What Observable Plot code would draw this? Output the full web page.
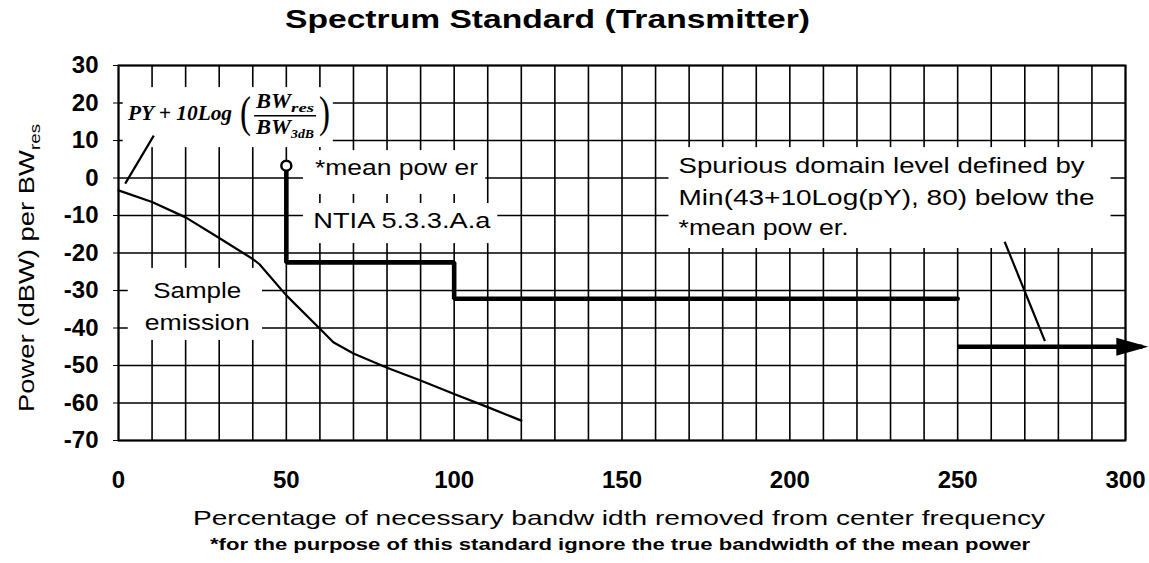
<!DOCTYPE html>
<html>
<head>
<meta charset="utf-8">
<script src="https://cdn.jsdelivr.net/npm/d3@7"></script>
<script src="https://cdn.jsdelivr.net/npm/@observablehq/plot@0.6"></script>
<style>
html,body{margin:0;padding:0;background:#fff;}
body{width:1149px;height:563px;overflow:hidden;font-family:"Liberation Sans",Arial,Helvetica,sans-serif;color:#000;}
#title{position:relative;height:40px;}
#title span{position:absolute;left:285px;top:4px;font-weight:bold;font-size:26px;line-height:30px;white-space:nowrap;transform-origin:left top;}
#chart{height:490px;}
#caption{position:relative;height:33px;}
#caption span{position:absolute;left:210px;top:5px;font-weight:bold;font-size:17px;line-height:20px;white-space:nowrap;transform-origin:left top;}
</style>
</head>
<body>
<div id="title"><span id="titleText">Spectrum Standard (Transmitter)</span></div>
<div id="chart"></div>
<div id="caption"><span id="captionText">*for the purpose of this standard ignore the true bandwidth of the mean power</span></div>
<script>
// ---- data ----
const xTicks = [0, 50, 100, 150, 200, 250, 300];
const yTicks = [30, 20, 10, 0, -10, -20, -30, -40, -50, -60, -70];
const gridX = [0,10,20,30,40,50,60,70,80,90,100,110,120,130,140,150,160,170,180,190,200,210,220,230,240,250,260,270,280,290,300];

const emissionX = [0, 10, 20, 30, 40, 42, 50, 60, 64, 70, 80, 90, 100, 110, 120];
const emissionY = [-3.3, -6.4, -10.5, -16, -21.6, -23, -31.3, -40.2, -43.8, -46.8, -50.6, -54, -57.6, -61.1, -64.7];

const maskX = [50, 50, 100, 100, 250];
const maskY = [3.3, -22.5, -22.5, -32.2, -32.2];

const meanPowerX = [50];
const meanPowerY = [3.3];

const spuriousX = [250, 305];
const spuriousY = [-45, -45];

const formulaLeaderX = [2, 10.5];
const formulaLeaderY = [-1.5, 11.3];
const spuriousLeaderX = [264, 276];
const spuriousLeaderY = [-17, -43.5];

// white label boxes (data units)
const boxX1 = [1.4, 55.1, 55.1, 2.9, 164];
const boxX2 = [64, 109.4, 113, 42.9, 295.7];
const boxY1 = [8.1, -4.4, -17.5, -43.3, -18.8];
const boxY2 = [24.1, 7.3, -6.8, -24.1, 8.1];

// annotation texts
const annText = ["*mean pow er", "NTIA 5.3.3.A.a", "Sample", "emission",
  "Spurious domain level defined by", "Min(43+10Log(pY), 80) below the", "*mean pow er."];
const annX = [58.7, 58.2, 23.6, 23.6, 167, 167, 167];
const annY = [0.67, -13.5, -32.2, -40.7, 1.1, -7.3, -15.3];

// ---- tables ----
const emission = emissionX.map((x, i) => ({x, y: emissionY[i]}));
const mask = maskX.map((x, i) => ({x, y: maskY[i]}));
const meanPower = meanPowerX.map((x, i) => ({x, y: meanPowerY[i]}));
const spurShaft = [{x1: spuriousX[0], y1: spuriousY[0], x2: spuriousX[1], y2: spuriousY[1]}];
const spurHead = [{x: spuriousX[1], y: spuriousY[1]}];
const leaders = [
  {x1: formulaLeaderX[0], y1: formulaLeaderY[0], x2: formulaLeaderX[1], y2: formulaLeaderY[1]},
  {x1: spuriousLeaderX[0], y1: spuriousLeaderY[0], x2: spuriousLeaderX[1], y2: spuriousLeaderY[1]}
];
const boxes = boxX1.map((x1, i) => ({x1, x2: boxX2[i], y1: boxY1[i], y2: boxY2[i]}));

const arrowHead = {draw(ctx) { ctx.moveTo(6, 0); ctx.lineTo(-26, -9); ctx.lineTo(-26, 9); ctx.closePath(); }};

const sans = "'Liberation Sans', Arial, Helvetica, sans-serif";
const serif = "'Liberation Serif', 'Times New Roman', serif";

const fig = Plot.plot({
  width: 1149,
  height: 490,
  marginLeft: 118,
  marginRight: 24,
  marginTop: 25,
  marginBottom: 90,
  style: {fontFamily: sans, fontSize: "24px", fontWeight: "bold", color: "#000", background: "#fff", overflow: "visible"},
  x: {domain: [0, 300], ticks: xTicks, tickFormat: d => String(d), tickSize: 0, tickPadding: 30, label: null},
  y: {domain: [-70, 30], ticks: yTicks, tickFormat: d => String(d), tickSize: 5, tickPadding: 15, label: null},
  marks: [
    Plot.ruleX(gridX, {y1: -70, y2: 30, stroke: "#000", strokeWidth: 1.6}),
    Plot.ruleY(yTicks, {x1: 0, x2: 300, stroke: "#000", strokeWidth: 1.6}),
    Plot.rect(boxes, {x1: "x1", x2: "x2", y1: "y1", y2: "y2", fill: "#fff"}),
    Plot.frame({stroke: "#000", strokeWidth: 2}),
    Plot.line(emission, {x: "x", y: "y", stroke: "#000", strokeWidth: 2.2}),
    Plot.line(mask, {x: "x", y: "y", stroke: "#000", strokeWidth: 4.6, strokeLinejoin: "miter", curve: "linear"}),
    Plot.link(leaders, {x1: "x1", y1: "y1", x2: "x2", y2: "y2", stroke: "#000", strokeWidth: 2.2}),
    Plot.dot(meanPower, {x: "x", y: "y", r: 5, stroke: "#000", strokeWidth: 2.5, fill: "#fff"}),
    Plot.link(spurShaft, {x1: "x1", y1: "y1", x2: "x2", y2: "y2", stroke: "#000", strokeWidth: 4.6}),
    Plot.dot(spurHead, {x: "x", y: "y", symbol: arrowHead, fill: "#000", stroke: "none"})
  ]
});
document.getElementById("chart").appendChild(fig);

// ---- annotations placed through the plot's scales ----
const sxI = fig.scale("x"), syI = fig.scale("y");
const X = d3.scaleLinear(sxI.domain, sxI.range);
const Y = d3.scaleLinear(syI.domain, syI.range);
const svg = d3.select(fig);
const g = svg.append("g").attr("class", "annotations");

function addText(str, px, py, o) {
  const t = g.append("text").attr("x", px).attr("y", py).text(str)
    .attr("font-size", o.size).attr("font-weight", o.weight || "normal")
    .attr("font-style", o.style || "normal").attr("font-family", o.family || sans)
    .attr("text-anchor", o.anchor || "start").attr("fill", "#000");
  if (o.len) t.attr("textLength", o.len).attr("lengthAdjust", "spacingAndGlyphs");
  if (o.rotate) t.attr("transform", `rotate(${o.rotate},${px},${py})`);
  return t;
}

const annLen = [163, 177, 88, 105, 406, 416, 170];
annText.forEach((s, i) => {
  addText(s, X(annX[i]), Y(annY[i]), {size: 22, len: annLen[i], anchor: (i === 2 || i === 3) ? "middle" : "start"});
});

// formula  PY + 10Log( BWres / BW3dB )
const fx = X(3), fy = Y(15.3);
addText("PY + 10Log", fx, fy, {size: 21, weight: "bold", style: "italic", family: serif, len: 104});
addText("(", fx + 112, fy + 7, {size: 44, family: serif, len: 11});
addText("BW", fx + 128, fy - 12, {size: 21, weight: "bold", style: "italic", family: serif, len: 35});
addText("res", fx + 163, fy - 8, {size: 13, weight: "bold", style: "italic", family: serif, len: 23});
g.append("line").attr("x1", fx + 126).attr("x2", fx + 188).attr("y1", fy - 4.5).attr("y2", fy - 4.5)
  .attr("stroke", "#000").attr("stroke-width", 1.5);
addText("BW", fx + 128, fy + 14, {size: 21, weight: "bold", style: "italic", family: serif, len: 35});
addText("3dB", fx + 163, fy + 18, {size: 13, weight: "bold", style: "italic", family: serif, len: 23});
addText(")", fx + 191, fy + 7, {size: 44, family: serif, len: 11});

// y-axis label (rotated) with subscript
addText("Power (dBW) per BW", 33.5, 372, {size: 22, rotate: -90, len: 262});
addText("res", 39.5, 110, {size: 14, rotate: -90, len: 26});

// x-axis label
addText("Percentage of necessary bandw idth removed from center frequency", 619, 485, {size: 21, anchor: "middle", len: 852});

// title and caption widths
function fitSpan(id, width) {
  const el = document.getElementById(id);
  const w = el.getBoundingClientRect().width;
  el.style.transform = `scaleX(${width / w})`;
}
fitSpan("titleText", 525);
fitSpan("captionText", 820);
</script>
</body>
</html>
